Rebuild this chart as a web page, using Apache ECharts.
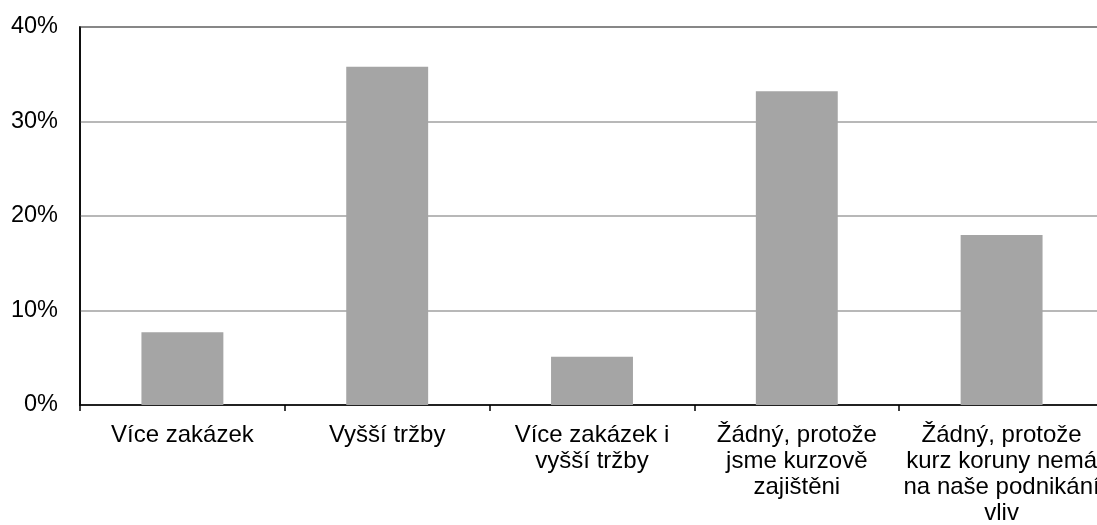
<!DOCTYPE html>
<html>
<head>
<meta charset="utf-8">
<script src="https://cdn.jsdelivr.net/npm/echarts@6/dist/echarts.min.js"></script>
<style>
html,body{margin:0;padding:0;background:#fff;overflow:hidden;}
#chart{width:1097px;height:525px;}
</style>
</head>
<body>
<div id="chart"></div>
<script>
const categories = [
  "Více zakázek",
  "Vyšší tržby",
  "Více zakázek i\nvyšší tržby",
  "Žádný, protože\njsme kurzově\nzajištěni",
  "Žádný, protože\nkurz koruny nemá\nna naše podnikání\nvliv"
];
const values = [7.7, 35.8, 5.1, 33.2, 18.0];
const yTicks = { min: 0, max: 40, interval: 10 };

const font = "'Liberation Sans', Arial, sans-serif";
const chart = echarts.init(document.getElementById('chart'), null, {renderer: 'canvas'});
chart.setOption({
  animation: false,
  backgroundColor: '#fff',
  grid: { left: 80, top: 27, height: 378, width: 1024, outerBoundsMode: 'none', show: true, borderColor: '#000', borderWidth: 1.5, containLabel: false },
  xAxis: {
    type: 'category',
    data: categories,
    axisLine: { show: true, lineStyle: { color: '#000', width: 1.5 } },
    axisTick: { show: true, alignWithLabel: false, length: 6, lineStyle: { color: '#000', width: 1.5 } },
    axisLabel: { interval: 0, color: '#000', fontFamily: font, fontSize: 24, lineHeight: 26, margin: 17, align: 'center' },
    splitLine: { show: false }
  },
  yAxis: {
    type: 'value',
    min: yTicks.min, max: yTicks.max, interval: yTicks.interval,
    axisLine: { show: true, lineStyle: { color: '#000', width: 1.5 } },
    axisTick: { show: false },
    axisLabel: { formatter: '{value}%', color: '#000', fontFamily: font, fontSize: 23.5, margin: 22 },
    splitLine: { show: true, lineStyle: { color: '#a0a0a0', width: 1.6 } }
  },
  series: [{
    type: 'bar',
    data: values,
    barWidth: '40%',
    itemStyle: { color: '#a5a5a5' }
  }]
});
</script>
</body>
</html>
